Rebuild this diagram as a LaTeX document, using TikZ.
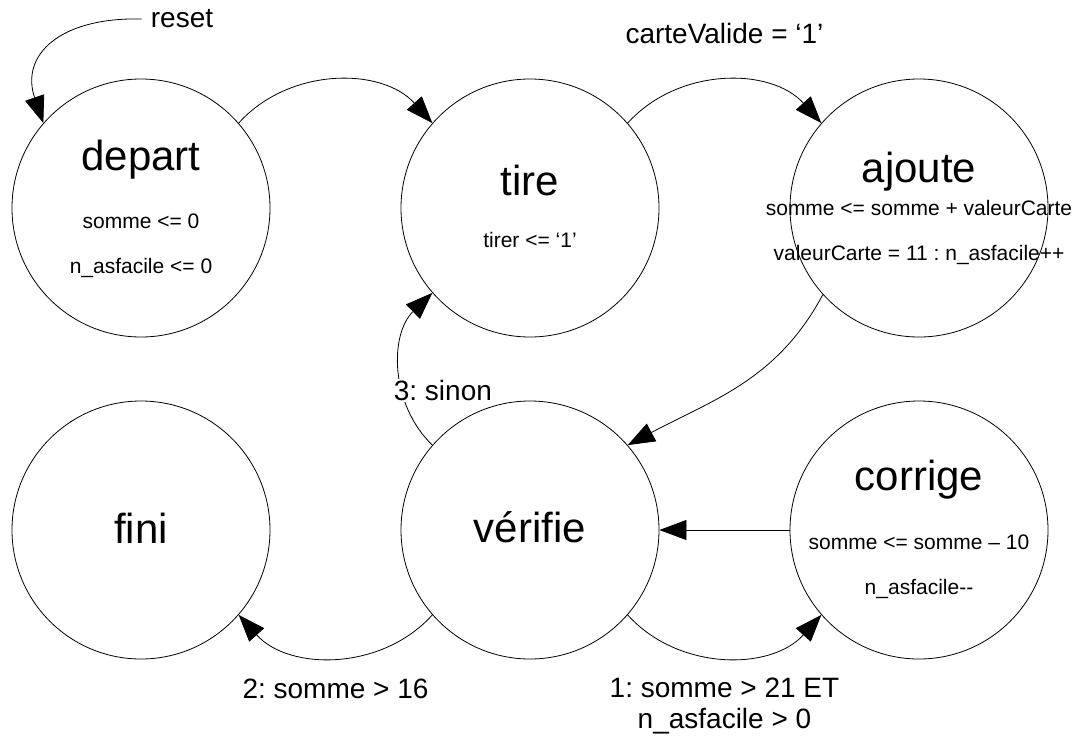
\documentclass[tikz,border=0pt]{standalone}
\usepackage{fontspec}
\setmainfont{Liberation Sans}
\usetikzlibrary{arrows.meta}
\frenchspacing

\begin{document}
\begin{tikzpicture}[x=1pt,y=1pt,node distance=389pt]
    \tikzstyle{state}=[circle,draw,line width=0.8pt,minimum size=258pt,inner sep=0pt]  % cercle d'un etat
    \tikzstyle{title}=[font=\fontsize{42pt}{50pt}\selectfont,anchor=base,inner sep=0pt]
    \tikzstyle{txt}=[font=\fontsize{21pt}{25pt}\selectfont,anchor=base,inner sep=0pt]
    \tikzstyle{lbl}=[font=\fontsize{28pt}{31pt}\selectfont,align=center,inner sep=1pt]
    \tikzstyle{arr}=[-{Triangle[length=27pt,width=20pt]},line width=0.8pt]

    \useasboundingbox (0,0) rectangle (1073,-739);

    % les etats
    \node[state](depart) at (141,-208){};
    \node[state,right of=depart](tire){};
    \node[state,right of=tire](ajoute){};
    \node[state,below of=depart,node distance=322pt](fini){};
    \node[state,right of=fini](verifie){};
    \node[state,right of=verifie](corrige){};

    % les textes dans les etats
    \node[title,yshift=38pt](departT) at (depart){depart};
    \node[txt,yshift=-20pt](departA) at (depart){somme <= 0};
    \node[txt,yshift=-65pt](departB) at (depart){n\_asfacile <= 0};
    \node[title,yshift=13pt](tireT) at (tire){tire};
    \node[txt,yshift=-39pt](tireA) at (tire){tirer <= ‘1’};
    \node[title,yshift=26pt](ajouteT) at (ajoute){ajoute};
    \node[txt,yshift=-7pt](ajouteA) at (ajoute){somme <= somme + valeurCarte};
    \node[txt,yshift=-52pt](ajouteB) at (ajoute){valeurCarte = 11 : n\_asfacile++};
    \node[title,yshift=-13pt](finiT) at (fini){fini};
    \node[title,yshift=-12pt](verifieT) at (verifie){vérifie};
    \node[title,yshift=40pt](corrigeT) at (corrige){corrige};
    \node[txt,yshift=-19pt](corrigeA) at (corrige){somme <= somme – 10};
    \node[txt,yshift=-64pt](corrigeB) at (corrige){n\_asfacile-{}-};

    \node[lbl,inner xsep=9pt](reset) at (182,-19){reset};

    % les transitions
    \draw[arr](reset.west) .. controls (60,-17) and (20,-55) .. (depart.139);
    \draw[arr](depart.41) to[bend left=48] (tire.139);
    \draw[arr](tire.41) to[bend left=48] node[lbl,midway,yshift=48pt](lblCarte){carteValide = ‘1’} (ajoute.139);
    \draw[arr](ajoute.222) to[out=242,in=28] (verifie.41);
    \draw[arr](corrige.west) -- (verifie.east);
    \draw[arr](verifie.-41) to[bend right=48] node[lbl,midway,yshift=-49.5pt](lblUn){1: somme > 21 ET\\n\_asfacile > 0} (corrige.-139);
    \draw[arr](verifie.-139) to[bend left=48] node[lbl,midway,yshift=-32pt](lblDeux){2: somme > 16} (fini.-41);
    \draw[arr](verifie.139) to[bend left=46] node[lbl,pos=0.37,anchor=west,xshift=-10pt,fill=white](lblTrois){3: sinon} (tire.221);
\end{tikzpicture}
\end{document}
